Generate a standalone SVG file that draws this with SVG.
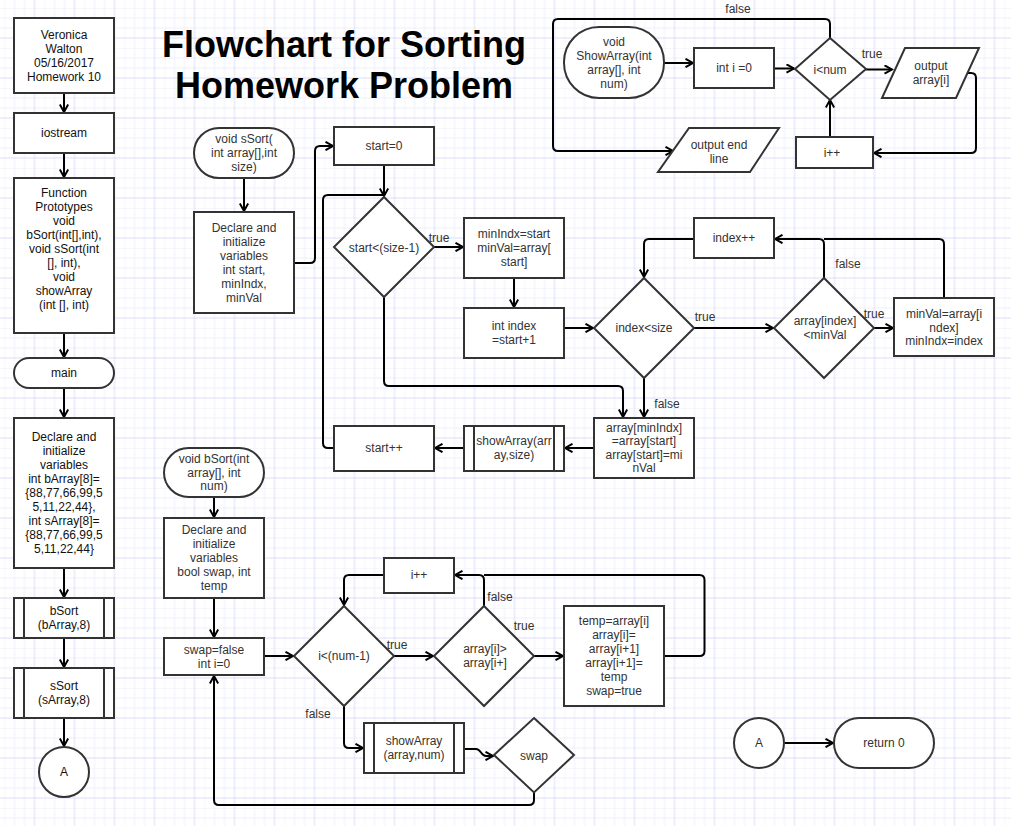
<svg xmlns="http://www.w3.org/2000/svg" width="1011" height="826" viewBox="0 0 1011 826">
<defs>
<pattern id="grid" x="4.5" y="8" width="40" height="40" patternUnits="userSpaceOnUse">
<path d="M0 0V40M10 0V40M20 0V40M0 0H40M0 10H40M0 20H40" stroke="#eeeefc" stroke-width="1" fill="none"/>
<path d="M30 0V40M0 30H40" stroke="#dcdcf8" stroke-width="1" fill="none"/>
</pattern>
<marker id="arr" viewBox="0 0 10 10" refX="8.5" refY="5" markerWidth="10" markerHeight="10" markerUnits="userSpaceOnUse" orient="auto">
<path d="M1 0.8 L8.5 5 L1 9.2" fill="none" stroke="#000" stroke-width="2"/>
</marker>
</defs>
<style>
.n rect,.n polygon,.n circle,.n line{fill:#fff;stroke:#333;stroke-width:2}
.n line{fill:none}
text{font-family:"Liberation Sans",Arial,sans-serif;font-size:12px;fill:#333;text-anchor:middle}
.d text{fill:#111}
.e path{fill:none;stroke:#000;stroke-width:2}
.e path.a{marker-end:url(#arr)}
.title{font-size:36px;font-weight:bold;fill:#000}
</style>
<rect width="1011" height="826" fill="#fff"/>
<rect width="1011" height="826" fill="url(#grid)"/>

<text class="title" x="344" y="57">Flowchart for Sorting</text>
<text class="title" x="344" y="98">Homework Problem</text>

<g class="e" id="connectors">
<path class="a" d="M64 93V112"/>
<path class="a" d="M64 153V177"/>
<path class="a" d="M64 333V357"/>
<path class="a" d="M64 388V417"/>
<path class="a" d="M64 568V597"/>
<path class="a" d="M64 638V667"/>
<path class="a" d="M64 718V746"/>
<path class="a" d="M244 178V211"/>
<path class="a" d="M294 263H310Q315 263 315 258V151Q315 146 320 146H333"/>
<path class="a" d="M384 165V196"/>
<path d="M334 448H328Q323 448 323 443V200Q323 195 328 195H384"/>
<path class="a" d="M434 247H463"/>
<path class="a" d="M514 278V307"/>
<path class="a" d="M564 328H593"/>
<path class="a" d="M384 297V381Q384 386 389 386H618Q623 386 623 391V417"/>
<path class="a" d="M694 239H649Q644 239 644 244V277"/>
<path class="a" d="M694 328H773"/>
<path class="a" d="M824 278V244Q824 239 819 239H775"/>
<path class="a" d="M874 328H893"/>
<path d="M944 298V244Q944 239 939 239H824"/>
<path class="a" d="M644 378V417"/>
<path class="a" d="M594 448H565"/>
<path class="a" d="M464 448H435"/>
<path class="a" d="M664 63H693"/>
<path class="a" d="M774 68.5H794"/>
<path class="a" d="M866 69.5H892"/>
<path class="a" d="M968 73H971Q976 73 976 78V148Q976 153 971 153H874"/>
<path class="a" d="M830 137V100"/>
<path class="a" d="M830 38V24Q830 19 825 19H558Q553 19 553 24V146Q553 151 558 151H673"/>
<path class="a" d="M214 497V517"/>
<path class="a" d="M214 598V637"/>
<path class="a" d="M264 656H293"/>
<path class="a" d="M384 575H349Q344 575 344 580V605"/>
<path class="a" d="M394 656H433"/>
<path class="a" d="M484 606V580Q484 575 479 575H455"/>
<path class="a" d="M534 656H563"/>
<path d="M664 656H699.5Q704.5 656 704.5 651V580Q704.5 575 699.5 575H484"/>
<path class="a" d="M344 706V743Q344 748 349 748H363"/>
<path class="a" d="M464 749H476C481 749 481 756 486 756H493"/>
<path class="a" d="M534 792.5V800Q534 805 529 805H219Q214 805 214 800V676"/>
<path class="a" d="M785 743H833"/>
<text x="738" y="13">false</text>
<text x="872" y="58">true</text>
<text x="439" y="242">true</text>
<text x="705" y="321">true</text>
<text x="848" y="268">false</text>
<text x="874" y="318">true</text>
<text x="667" y="408">false</text>
<text x="397" y="649">true</text>
<text x="500" y="601">false</text>
<text x="524" y="630">true</text>
<text x="318" y="718">false</text>
</g>

<g class="n d" id="n-author"><rect x="14" y="18" width="100" height="75"/>
<text x="64" y="39">Veronica</text><text x="64" y="53">Walton</text><text x="64" y="67">05/16/2017</text><text x="64" y="81">Homework 10</text></g>
<g class="n d" id="n-iostream"><rect x="14" y="113" width="100" height="40"/><text x="64" y="137">iostream</text></g>
<g class="n d" id="n-proto"><rect x="14" y="178" width="100" height="155"/>
<text x="64" y="197">Function</text><text x="64" y="211">Prototypes</text><text x="64" y="225">void</text><text x="64" y="239">bSort(int[],int),</text><text x="64" y="253">void sSort(int</text><text x="64" y="267">[], int),</text><text x="64" y="281">void</text><text x="64" y="295">showArray</text><text x="64" y="309">(int [], int)</text></g>
<g class="n d" id="n-main"><rect x="14" y="358" width="100" height="30" rx="15"/><text x="64" y="377">main</text></g>
<g class="n d" id="n-decl-main"><rect x="14" y="418" width="100" height="150"/>
<text x="64" y="441">Declare and</text><text x="64" y="455">initialize</text><text x="64" y="469">variables</text><text x="64" y="483">int bArray[8]=</text><text x="64" y="497">{88,77,66,99,5</text><text x="64" y="511">5,11,22,44},</text><text x="64" y="525">int sArray[8]=</text><text x="64" y="539">{88,77,66,99,5</text><text x="64" y="553">5,11,22,44}</text></g>
<g class="n d" id="n-call-bsort"><rect x="14" y="598" width="100" height="40"/><line x1="24" y1="598" x2="24" y2="638"/><line x1="104" y1="598" x2="104" y2="638"/>
<text x="64" y="615">bSort</text><text x="64" y="629">(bArray,8)</text></g>
<g class="n d" id="n-call-ssort"><rect x="14" y="668" width="100" height="50"/><line x1="24" y1="668" x2="24" y2="718"/><line x1="104" y1="668" x2="104" y2="718"/>
<text x="64" y="690">sSort</text><text x="64" y="704">(sArray,8)</text></g>
<g class="n d" id="n-a1"><circle cx="64" cy="772" r="25"/><text x="64" y="776">A</text></g>

<g class="n" id="n-ssort"><rect x="194" y="128" width="100" height="50" rx="25"/>
<text x="244" y="143">void sSort(</text><text x="244" y="157">int array[],int</text><text x="244" y="171">size)</text></g>
<g class="n" id="n-decl-ssort"><rect x="194" y="212" width="100" height="101"/>
<text x="244" y="232">Declare and</text><text x="244" y="246">initialize</text><text x="244" y="260">variables</text><text x="244" y="274">int start,</text><text x="244" y="288">minIndx,</text><text x="244" y="302">minVal</text></g>
<g class="n" id="n-start0"><rect x="334" y="127" width="100" height="38"/><text x="384" y="150">start=0</text></g>
<g class="n" id="n-startcond"><polygon points="384,197 434,247 384,297 334,247"/><text x="384" y="252">start&lt;(size-1)</text></g>
<g class="n" id="n-minidx"><rect x="464" y="218" width="100" height="60"/>
<text x="514" y="238">minIndx=start</text><text x="514" y="252">minVal=array[</text><text x="514" y="266">start]</text></g>
<g class="n" id="n-index"><rect x="464" y="308" width="100" height="50"/><text x="514" y="330">int index</text><text x="514" y="344">=start+1</text></g>
<g class="n" id="n-startpp"><rect x="334" y="426" width="100" height="45"/><text x="384" y="452">start++</text></g>
<g class="n" id="n-show1"><rect x="464" y="426" width="100" height="45"/><line x1="474" y1="426" x2="474" y2="471"/><line x1="554" y1="426" x2="554" y2="471"/>
<text x="514" y="445">showArray(arr</text><text x="514" y="459">ay,size)</text></g>
<g class="n" id="n-indexpp"><rect x="694" y="218" width="80" height="40"/><text x="734" y="242">index++</text></g>
<g class="n" id="n-indexcond"><polygon points="644,278 694,328 644,378 594,328"/><text x="644" y="332">index&lt;size</text></g>
<g class="n" id="n-cmp"><polygon points="824,278 874,328 824,378 774,328"/><text x="825" y="325">array[index]</text><text x="825" y="339">&lt;minVal</text></g>
<g class="n" id="n-minval"><rect x="894" y="298" width="100" height="58"/>
<text x="944" y="318">minVal=array[i</text><text x="944" y="332">ndex]</text><text x="944" y="345">minIndx=index</text></g>
<g class="n" id="n-swap1"><rect x="594" y="418" width="100" height="60"/>
<text x="644" y="431.5">array[minIndx]</text><text x="644" y="445">=array[start]</text><text x="644" y="458.5">array[start]=mi</text><text x="644" y="472">nVal</text></g>

<g class="n" id="n-showarr"><rect x="564" y="27" width="100" height="71" rx="35"/>
<text x="614" y="46">void</text><text x="614" y="60">ShowArray(int</text><text x="614" y="74">array[], int</text><text x="614" y="88">num)</text></g>
<g class="n" id="n-i0"><rect x="694" y="48" width="80" height="40"/><text x="734" y="72">int i =0</text></g>
<g class="n" id="n-icond"><polygon points="830,38 866,69 830,100 795,69"/><text x="830" y="74">i&lt;num</text></g>
<g class="n" id="n-out"><polygon points="905,48 979,48 956,98 882,98"/><text x="931" y="70">output</text><text x="931" y="84">array[i]</text></g>
<g class="n" id="n-ipp1"><rect x="796" y="137" width="77" height="31"/><text x="832" y="157">i++</text></g>
<g class="n" id="n-endl"><polygon points="689,128 779,128 750,172 658,172"/><text x="719" y="148.5">output end</text><text x="719" y="162.5">line</text></g>

<g class="n" id="n-bsort"><rect x="164" y="448" width="100" height="49" rx="24.5"/>
<text x="214" y="463">void bSort(int</text><text x="214" y="477">array[], int</text><text x="214" y="490">num)</text></g>
<g class="n" id="n-decl-bsort"><rect x="164" y="518" width="100" height="80"/>
<text x="214" y="534">Declare and</text><text x="214" y="548">initialize</text><text x="214" y="562">variables</text><text x="214" y="576">bool swap, int</text><text x="214" y="590">temp</text></g>
<g class="n" id="n-swapfalse"><rect x="164" y="638" width="100" height="37"/><text x="214" y="654">swap=false</text><text x="214" y="668">int i=0</text></g>
<g class="n" id="n-icond2"><polygon points="344,606 394,656 344,706 294,656"/><text x="344" y="660">i&lt;(num-1)</text></g>
<g class="n" id="n-ipp2"><rect x="384" y="558" width="70" height="35"/><text x="419" y="579">i++</text></g>
<g class="n" id="n-cmp2"><polygon points="484,606 534,656 484,706 434,656"/><text x="485" y="653">array[i]&gt;</text><text x="485" y="667">array[i+]</text></g>
<g class="n" id="n-temp"><rect x="564" y="606" width="100" height="100"/>
<text x="614" y="625">temp=array[i]</text><text x="614" y="639">array[i]=</text><text x="614" y="653">array[i+1]</text><text x="614" y="667">array[i+1]=</text><text x="614" y="681">temp</text><text x="614" y="695">swap=true</text></g>
<g class="n" id="n-show2"><rect x="364" y="723" width="100" height="50"/><line x1="374" y1="723" x2="374" y2="773"/><line x1="454" y1="723" x2="454" y2="773"/>
<text x="414" y="745">showArray</text><text x="414" y="759">(array,num)</text></g>
<g class="n" id="n-swapcond"><polygon points="534,718 574,755 534,792.5 494,755"/><text x="534" y="760">swap</text></g>

<g class="n" id="n-a2"><circle cx="759" cy="743" r="25"/><text x="759" y="747">A</text></g>
<g class="n" id="n-ret"><rect x="834" y="718" width="100" height="50" rx="25"/><text x="884" y="747">return 0</text></g>
</svg>
